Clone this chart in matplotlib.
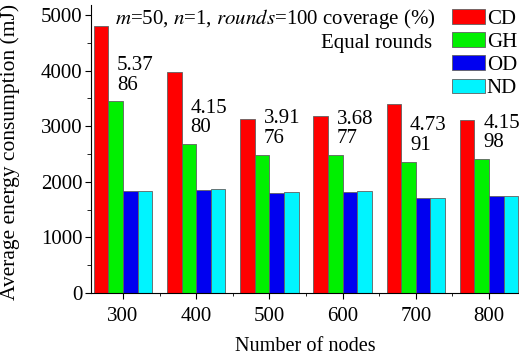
import numpy as np
import matplotlib.pyplot as plt

plt.rcParams['font.family'] = ['Liberation Serif', 'DejaVu Serif']
plt.rcParams['mathtext.fontset'] = 'stix'

nodes = [300, 400, 500, 600, 700, 800]
cd = [4800, 3970, 3130, 3180, 3400, 3110]
gh = [3450, 2680, 2490, 2480, 2360, 2410]
od = [1840, 1850, 1805, 1815, 1715, 1745]
nd = [1840, 1865, 1815, 1830, 1715, 1745]
ratio_labels = ['5.37', '4.15', '3.91', '3.68', '4.73', '4.15']
coverage_labels = ['86', '80', '76', '77', '91', '98']

series = [('CD', cd, '#ff0000'), ('GH', gh, '#00f000'),
          ('OD', od, '#0000f0'), ('ND', nd, '#00f4ff')]

fig = plt.figure(figsize=(5.19, 3.58), dpi=100)
ax = fig.add_axes([91 / 519, 65 / 358, 428 / 519, 288 / 358])

x = np.arange(len(nodes))
w = 0.2
for i, (name, vals, col) in enumerate(series):
    ax.bar(x + (i - 1.5) * w, vals, w, color=col, edgecolor='#606060',
           linewidth=0.6, label=name)

for xi, g, r, c in zip(x, gh, ratio_labels, coverage_labels):
    ax.text(xi - 0.5 * w + 0.02, g + 120, r + '\n' + c, fontsize=15,
            ha='left', va='bottom', linespacing=1.05)

ax.set_xlim(-0.437, 5.41)
ax.set_ylim(0, 5180)
ax.set_xticks(x)
ax.set_xticklabels([str(n) for n in nodes], fontsize=15)
ax.set_xticks(x[:-1] + 0.5, minor=True)
ax.set_yticks(np.arange(0, 5001, 1000))
ax.set_yticks(np.arange(500, 5000, 1000), minor=True)
ax.tick_params(axis='y', labelsize=15, direction='out', length=4, pad=2)
ax.tick_params(axis='y', which='minor', length=3)
ax.tick_params(axis='x', which='major', length=4, pad=6)
ax.tick_params(axis='x', which='minor', length=2)
ax.spines['top'].set_visible(False)
ax.spines['right'].set_visible(False)

ax.set_xlabel('Number of nodes', fontsize=14.6, labelpad=8)
ax.set_ylabel('Average energy consumption (mJ)', fontsize=15.5)
ax.yaxis.set_label_coords(-0.166, 0.49)

ax.text(0.055, 0.952, r'$m$=50, $n$=1, $rounds$=100 coverage (%)',
        transform=ax.transAxes, fontsize=15, ha='left', va='center')
ax.text(0.797, 0.866, 'Equal rounds', transform=ax.transAxes, fontsize=15,
        ha='right', va='center')

fig.legend(loc='upper right', bbox_to_anchor=(1.0, 0.98), frameon=False,
           fontsize=15, handlelength=1.55, handleheight=0.7,
           handletextpad=0.1, labelspacing=0.17, borderpad=0.1,
           borderaxespad=0.0)

fig.savefig('out.png', dpi=100)
